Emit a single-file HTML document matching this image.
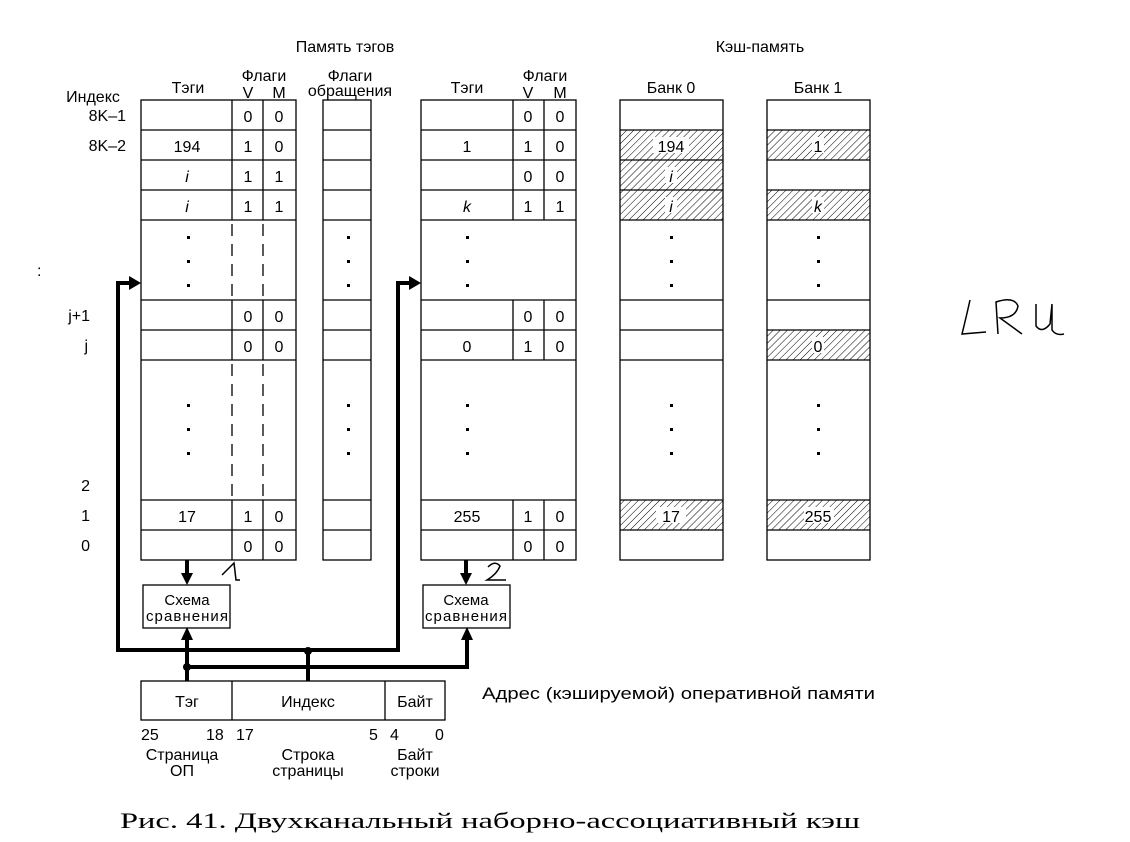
<!DOCTYPE html>
<html><head><meta charset="utf-8"><style>
body{margin:0;background:#fff}
svg{display:block}
text{font-family:"Liberation Sans",sans-serif;font-size:16px;fill:#000}
</style></head><body>
<svg width="1130" height="842" viewBox="0 0 1130 842" xmlns="http://www.w3.org/2000/svg">
<defs>
<pattern id="h" width="5" height="5" patternUnits="userSpaceOnUse" patternTransform="rotate(45)">
<line x1="0" y1="0" x2="0" y2="5" stroke="#000" stroke-width="1"/>
</pattern>
</defs>
<g text-anchor="middle">
<text x="345" y="52">Память тэгов</text>
<text x="760" y="52">Кэш-память</text>
<text x="93" y="102">Индекс</text>
<text x="188" y="93">Тэги</text>
<text x="264" y="81">Флаги</text>
<text x="248" y="98">V</text><text x="279" y="98">M</text>
<text x="350" y="81">Флаги</text>
<text x="350" y="96">обращения</text>
<text x="467" y="93">Тэги</text>
<text x="545" y="81">Флаги</text>
<text x="528" y="98">V</text><text x="560" y="98">M</text>
<text x="671" y="93">Банк 0</text>
<text x="818" y="93">Банк 1</text>
</g>
<g text-anchor="end">
<text x="126" y="121">8K–1</text>
<text x="126" y="151">8K–2</text>
<text x="90" y="321">j+1</text>
<text x="88" y="351">j</text>
<text x="90" y="491">2</text>
<text x="90" y="521">1</text>
<text x="90" y="551">0</text>
</g>
<text x="37" y="276">:</text>
<g fill="url(#h)">
<rect x="620" y="130" width="103" height="90"/>
<rect x="620" y="500" width="103" height="30"/>
<rect x="767" y="130" width="103" height="30"/>
<rect x="767" y="190" width="103" height="30"/>
<rect x="767" y="330" width="103" height="30"/>
<rect x="767" y="500" width="103" height="30"/>
</g>
<g fill="#fff">
<rect x="653" y="137" width="36" height="16"/><rect x="665" y="167" width="12" height="16"/><rect x="665" y="197" width="12" height="16"/>
<rect x="656" y="507" width="30" height="16"/>
<rect x="812" y="137" width="12" height="16"/><rect x="812" y="197" width="12" height="16"/><rect x="812" y="337" width="12" height="16"/><rect x="804" y="507" width="30" height="16"/>
</g>
<g fill="none" stroke="#000" stroke-width="1.3">
<rect x="141" y="100" width="155" height="460"/>
<rect x="323" y="100" width="48" height="460"/>
<rect x="421" y="100" width="155" height="460"/>
<rect x="620" y="100" width="103" height="460"/>
<rect x="767" y="100" width="103" height="460"/>
<path d="M141 130H296M141 160H296M141 190H296M141 220H296M141 300H296M141 330H296M141 360H296M141 500H296M141 530H296"/>
<path d="M323 130H371M323 160H371M323 190H371M323 220H371M323 300H371M323 330H371M323 360H371M323 500H371M323 530H371"/>
<path d="M421 130H576M421 160H576M421 190H576M421 220H576M421 300H576M421 330H576M421 360H576M421 500H576M421 530H576"/>
<path d="M620 130H723M620 160H723M620 190H723M620 220H723M620 300H723M620 330H723M620 360H723M620 500H723M620 530H723"/>
<path d="M767 130H870M767 160H870M767 190H870M767 220H870M767 300H870M767 330H870M767 360H870M767 500H870M767 530H870"/>
<path d="M232 100V220M263 100V220M232 300V360M263 300V360M232 500V560M263 500V560"/>
<path d="M513 100V220M544 100V220M513 300V360M544 300V360M513 500V560M544 500V560"/>
</g>
<g stroke="#000" stroke-width="1.3" stroke-dasharray="12,8">
<path d="M232 224V300M263 224V300M232 364V500M263 364V500"/>
</g>
<g fill="#000">
<g id="d1"><rect x="187" y="236" width="3" height="3"/><rect x="187" y="260" width="3" height="3"/><rect x="187" y="284" width="3" height="3"/></g>
<use href="#d1" x="160"/><use href="#d1" x="279"/><use href="#d1" x="483"/><use href="#d1" x="630"/>
<g id="d2"><rect x="187" y="404" width="3" height="3"/><rect x="187" y="428" width="3" height="3"/><rect x="187" y="452" width="3" height="3"/></g>
<use href="#d2" x="160"/><use href="#d2" x="279"/><use href="#d2" x="483"/><use href="#d2" x="630"/>
</g>
<g text-anchor="middle" style="font-size:17px">
<text x="248" y="122">0</text><text x="279" y="122">0</text>
<text x="187" y="152">194</text><text x="248" y="152">1</text><text x="279" y="152">0</text>
<text x="187" y="182" font-style="italic">i</text><text x="248" y="182">1</text><text x="279" y="182">1</text>
<text x="187" y="212" font-style="italic">i</text><text x="248" y="212">1</text><text x="279" y="212">1</text>
<text x="248" y="322">0</text><text x="279" y="322">0</text>
<text x="248" y="352">0</text><text x="279" y="352">0</text>
<text x="187" y="522">17</text><text x="248" y="522">1</text><text x="279" y="522">0</text>
<text x="248" y="552">0</text><text x="279" y="552">0</text>
<text x="528" y="122">0</text><text x="560" y="122">0</text>
<text x="467" y="152">1</text><text x="528" y="152">1</text><text x="560" y="152">0</text>
<text x="528" y="182">0</text><text x="560" y="182">0</text>
<text x="467" y="212" font-style="italic">k</text><text x="528" y="212">1</text><text x="560" y="212">1</text>
<text x="528" y="322">0</text><text x="560" y="322">0</text>
<text x="467" y="352">0</text><text x="528" y="352">1</text><text x="560" y="352">0</text>
<text x="467" y="522">255</text><text x="528" y="522">1</text><text x="560" y="522">0</text>
<text x="528" y="552">0</text><text x="560" y="552">0</text>
<text x="671" y="152">194</text><text x="671" y="182" font-style="italic">i</text><text x="671" y="212" font-style="italic">i</text><text x="671" y="522">17</text>
<text x="818" y="152">1</text><text x="818" y="212" font-style="italic">k</text><text x="818" y="352">0</text><text x="818" y="522">255</text>
</g>
<rect x="143" y="585" width="87" height="43" fill="none" stroke="#000" stroke-width="1.3"/>
<rect x="423" y="585" width="87" height="43" fill="none" stroke="#000" stroke-width="1.3"/>
<g text-anchor="middle">
<text x="187" y="605" style="font-size:15px">Схема</text><text x="187" y="621" style="font-size:15px" textLength="82">сравнения</text>
<text x="466" y="605" style="font-size:15px">Схема</text><text x="466" y="621" style="font-size:15px" textLength="82">сравнения</text>
</g>
<rect x="141" y="681" width="304" height="39" fill="none" stroke="#000" stroke-width="1.3"/>
<path d="M232 681V720M385 681V720" stroke="#000" stroke-width="1.3"/>
<g text-anchor="middle">
<text x="187" y="707">Тэг</text><text x="308" y="707">Индекс</text><text x="415" y="707">Байт</text>
<text x="182" y="760">Страница</text><text x="182" y="776">ОП</text>
<text x="308" y="760">Строка</text><text x="308" y="776">страницы</text>
<text x="415" y="760">Байт</text><text x="415" y="776">строки</text>
</g>
<text x="141" y="740">25</text><text x="206" y="740">18</text><text x="236" y="740">17</text>
<text x="369" y="740">5</text><text x="390" y="740">4</text><text x="435" y="740">0</text>
<text x="482" y="699" textLength="393" lengthAdjust="spacingAndGlyphs" style="font-size:17px">Адрес (кэшируемой) оперативной памяти</text>
<g fill="none" stroke="#000" stroke-width="4">
<path d="M131 283H118V650H398V283H410"/>
<path d="M187 681V632M187 667H467V632M308 681V650"/>
<path d="M187 560V580M466 560V580"/>
</g>
<g fill="#000">
<path d="M141 283L129 276V290Z"/><path d="M421 283L409 276V290Z"/>
<path d="M187 627L181 640H193Z"/><path d="M467 627L461 640H473Z"/>
<path d="M187 585L181 573H193Z"/><path d="M466 585L460 573H472Z"/>
<circle cx="187" cy="667" r="4"/><circle cx="308" cy="651" r="4"/>
</g>
<g fill="none" stroke="#000" stroke-width="1.5">
<path d="M222 575L234 563L236 580H240"/>
<path d="M488 567Q495 560 500 566Q497 574 487 580H506"/>
<path d="M970 300Q966 318 962 334L986 332"/>
<path d="M998 334L996 302Q1014 296 1018 306Q1016 318 1000 318L1022 334"/>
<path d="M1036 304V326Q1042 334 1050 324L1052 304M1052 304V330Q1056 336 1064 334"/>
</g>
<text x="120" y="828" textLength="740" lengthAdjust="spacingAndGlyphs" style="font-family:'Liberation Serif',serif;font-size:22px">Рис. 41. Двухканальный наборно-ассоциативный кэш</text>
</svg>
</body></html>
